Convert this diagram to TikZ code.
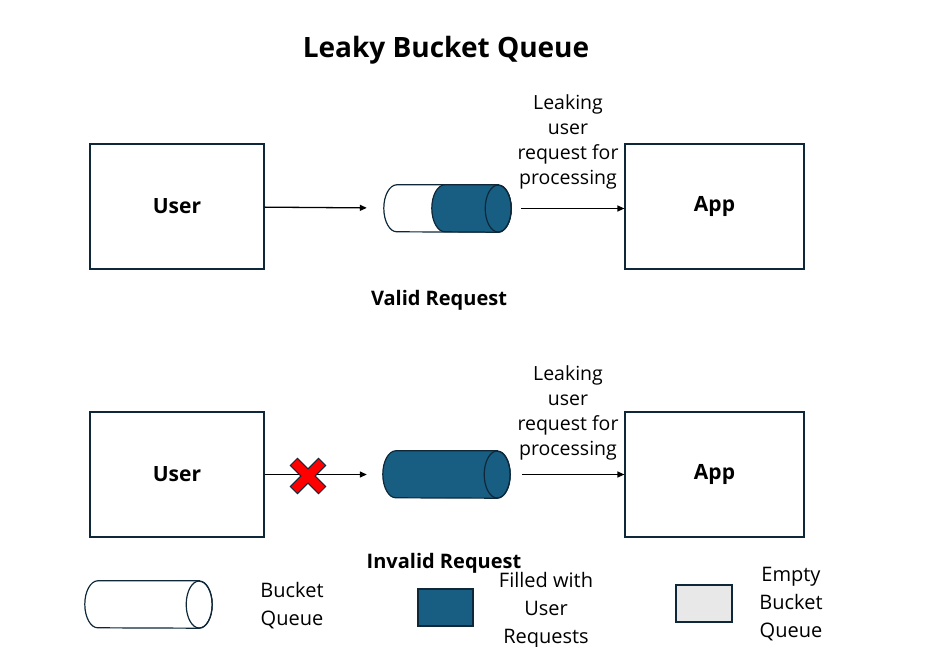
\documentclass[tikz,border=0pt]{standalone}
\usepackage{fontspec}
\setmainfont{Open Sans}
\usetikzlibrary{positioning, calc, arrows.meta}
\definecolor{qfill}{RGB}{23,94,130}
\definecolor{qline}{RGB}{14,40,58}
\definecolor{emptyfill}{RGB}{232,232,232}
\tikzstyle{block} = [draw=qline, line width=1.2pt, minimum width=174pt,
        minimum height=125pt, font=\fontsize{21}{24}\selectfont\bfseries]
\tikzset{
    flow/.style={-{Triangle[length=7pt,width=6pt]}, line width=1.3pt},
    note/.style={align=center, font=\fontsize{19.5}{25}\selectfont},
    keynote/.style={align=center, font=\fontsize{20}{28}\selectfont},
    caption/.style={font=\fontsize{20}{24}\selectfont\bfseries},
    bucketbox/.style={minimum width=127pt, minimum height=47pt, inner sep=0pt},
    capr/.style={x radius=13pt, y radius=23.5pt},
    qdraw/.style={draw=qline, line width=1.2pt}
}

\begin{document}
\begin{tikzpicture}[x=1pt, y=-1pt]
    \useasboundingbox (0,0) rectangle (927,647);
    \node[font=\fontsize{28}{32}\selectfont\bfseries] (title) at (446,50) {Leaky Bucket Queue};

    % valid request
    \node [block] (user1) at (177,206.5) {User};
    \node [block, minimum width=179pt] (app1) at (714.5,206.5) {App};
    \node [bucketbox] (q1) at (447.5,208.5) {};
    \draw[qdraw, fill=white] ($(q1.north east)+(-13,0)$) -- ($(q1.north west)+(13,0)$)
        arc[start angle=90, end angle=270, capr] -- ($(q1.south east)+(-13,0)$)
        arc[start angle=-90, end angle=90, capr] -- cycle;
    \draw[qdraw, fill=qfill] ($(q1.north east)+(-13,0)$) -- ($(q1.north west)+(61,0)$)
        arc[start angle=90, end angle=270, capr] -- ($(q1.south east)+(-13,0)$)
        arc[start angle=-90, end angle=90, capr] -- cycle;
    \draw[qdraw] ($(q1.east)+(-13,0)$) ellipse [capr];
    \draw[flow, shorten >=17pt] (user1) -- (q1);
    \draw[flow, shorten <=10pt] (q1.east) -- (q1.east -| app1.west);
    \node[note] (leak1) at (568,142) {Leaking\\user\\request for\\processing};
    \node[caption] (valid) at (439,300) {Valid Request};

    % invalid request
    \node [block] (user2) at (177,474.5) {User};
    \node [block, minimum width=179pt] (app2) at (714.5,474.5) {App};
    \node [bucketbox] (q2) at (446.5,474.5) {};
    \draw[qdraw, fill=qfill] ($(q2.north east)+(-13,0)$) -- ($(q2.north west)+(13,0)$)
        arc[start angle=90, end angle=270, capr] -- ($(q2.south east)+(-13,0)$)
        arc[start angle=-90, end angle=90, capr] -- cycle;
    \draw[qdraw] ($(q2.east)+(-13,0)$) ellipse [capr];
    \draw[flow, shorten >=16pt] (user2.east) -- (q2.west);
    \draw[flow, shorten <=12pt] (q2.east) -- (q2.east -| app2.west);
    \coordinate (stop) at (308,476);
    \draw[qline, line width=1pt, fill=red, shift={(stop)}, rotate=45]
        (5,20) -- (5,5) -- (20,5) -- (20,-5) -- (5,-5) -- (5,-20) -- (-5,-20)
        -- (-5,-5) -- (-20,-5) -- (-20,5) -- (-5,5) -- (-5,20) -- cycle;
    \node[note] (leak2) at (568,413) {Leaking\\user\\request for\\processing};
    \node[caption] (invalid) at (444,563) {Invalid Request};

    % legend
    \node [bucketbox] (key1) at (148.5,604.5) {};
    \draw[qdraw, fill=white] ($(key1.north east)+(-13,0)$) -- ($(key1.north west)+(13,0)$)
        arc[start angle=90, end angle=270, capr] -- ($(key1.south east)+(-13,0)$)
        arc[start angle=-90, end angle=90, capr] -- cycle;
    \draw[qdraw] ($(key1.east)+(-13,0)$) ellipse [capr];
    \node[keynote] (key1text) at (292,606) {Bucket\\Queue};
    \node[qdraw, fill=qfill, minimum width=55pt, minimum height=37pt] (key2) at (445.5,607.5) {};
    \node[keynote] (key2text) at (546,610) {Filled with\\User\\Requests};
    \node[qdraw, fill=emptyfill, minimum width=56pt, minimum height=37pt] (key3) at (704,603.5) {};
    \node[keynote] (key3text) at (791,604) {Empty\\Bucket\\Queue};
\end{tikzpicture}
\end{document}
